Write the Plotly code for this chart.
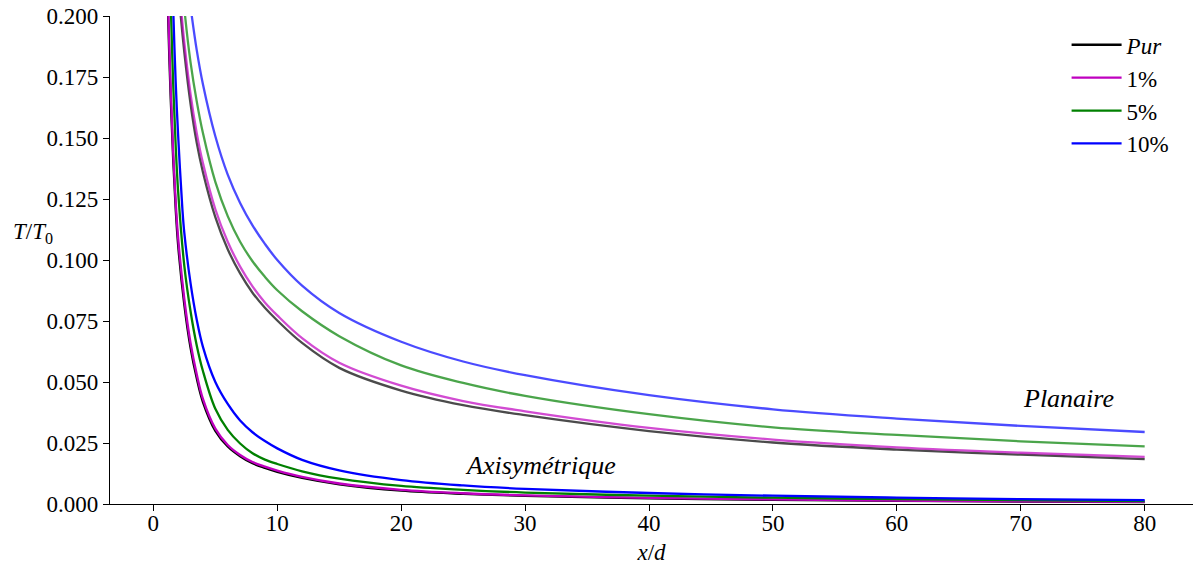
import plotly.graph_objects as go

# ---- data ----
series_names = ["<i>Pur</i>", "1%", "5%", "10%"]
colors = ["#000000", "#bf00bf", "#008000", "#0000ff"]

# Axisymmetric jets
ax_x_pur = [1.1, 1.2, 1.4, 1.6, 1.8, 2.0, 2.5, 3, 3.5, 4, 5, 6, 7, 8, 9, 10, 12, 15, 20, 25, 30, 40, 50, 60, 70, 80]
ax_y_pur = [0.222, 0.198, 0.166, 0.141, 0.121, 0.106, 0.0815, 0.0640, 0.0515, 0.0418, 0.0300, 0.0236, 0.0196, 0.0167, 0.0148, 0.0132, 0.0107, 0.0081, 0.0055, 0.0042, 0.0033, 0.0023, 0.0017, 0.0013, 0.0010, 0.0008]
ax_x_1 = [1.1, 1.2, 1.4, 1.6, 1.8, 2.0, 2.5, 3, 3.5, 4, 5, 6, 7, 8, 9, 10, 12, 15, 20, 25, 30, 40, 50, 60, 70, 80]
ax_y_1 = [0.228, 0.203, 0.170, 0.144, 0.124, 0.109, 0.0840, 0.0660, 0.0532, 0.0431, 0.0309, 0.0242, 0.0201, 0.0172, 0.0153, 0.0137, 0.0111, 0.0084, 0.0058, 0.0044, 0.0035, 0.0025, 0.0019, 0.0014, 0.0011, 0.0009]
ax_x_5 = [1.3, 1.43, 1.6, 1.8, 2.0, 2.5, 3, 3.5, 4, 5, 6, 7, 8, 9, 10, 12, 15, 20, 25, 30, 40, 50, 60, 70, 80]
ax_y_5 = [0.224, 0.200, 0.172, 0.147, 0.128, 0.0975, 0.0790, 0.0650, 0.0545, 0.0390, 0.0304, 0.0248, 0.0208, 0.0182, 0.0164, 0.0134, 0.0104, 0.0074, 0.0058, 0.0047, 0.0034, 0.0026, 0.0020, 0.0016, 0.0012]
ax_x_10 = [1.5, 1.62, 1.8, 2.0, 2.34, 2.5, 3, 3.5, 4, 5, 6, 7, 8, 9, 10, 12, 15, 20, 25, 30, 40, 50, 60, 70, 80]
ax_y_10 = [0.224, 0.200, 0.173, 0.151, 0.121, 0.111, 0.0905, 0.0755, 0.0644, 0.0500, 0.0410, 0.0342, 0.0294, 0.0258, 0.0228, 0.0181, 0.0138, 0.0098, 0.0076, 0.0062, 0.0045, 0.0034, 0.0026, 0.0020, 0.0016]

# Planar jets
pl_x_pur = [2.0, 2.21, 2.5, 3, 3.5, 4, 5, 6, 7, 8, 9, 10, 12, 15, 20, 25, 30, 40, 50, 60, 70, 80]
pl_y_pur = [0.214, 0.200, 0.185, 0.164, 0.148, 0.136, 0.1176, 0.1044, 0.0945, 0.0866, 0.0804, 0.0752, 0.0660, 0.0558, 0.0465, 0.0405, 0.0364, 0.0299, 0.0252, 0.0223, 0.0202, 0.0184]
pl_x_1 = [2.1, 2.29, 2.5, 3, 3.5, 4, 5, 6, 7, 8, 9, 10, 12, 15, 20, 25, 30, 40, 50, 60, 70, 80]
pl_y_1 = [0.212, 0.200, 0.189, 0.168, 0.152, 0.1397, 0.1208, 0.1075, 0.0973, 0.0892, 0.0826, 0.0773, 0.0680, 0.0579, 0.0485, 0.0422, 0.0380, 0.0312, 0.0264, 0.0232, 0.0210, 0.0193]
pl_x_5 = [2.3, 2.56, 3, 3.5, 4, 5, 6, 7, 8, 9, 10, 12, 15, 20, 25, 30, 40, 50, 60, 70, 80]
pl_y_5 = [0.215, 0.200, 0.181, 0.165, 0.152, 0.132, 0.118, 0.1075, 0.0995, 0.0931, 0.0876, 0.0790, 0.0688, 0.0568, 0.0496, 0.0443, 0.0368, 0.0314, 0.0283, 0.0257, 0.0236]
pl_x_10 = [2.8, 3.1, 3.5, 4, 5, 6, 7, 8, 9, 10, 12, 15, 20, 25, 30, 40, 50, 60, 70, 80]
pl_y_10 = [0.212, 0.200, 0.186, 0.172, 0.1507, 0.135, 0.1234, 0.1142, 0.1066, 0.100, 0.0895, 0.0783, 0.0665, 0.0584, 0.0528, 0.0446, 0.0388, 0.0350, 0.0320, 0.0295]

x_ticks = [0, 10, 20, 30, 40, 50, 60, 70, 80]
y_ticks = [0.0, 0.025, 0.05, 0.075, 0.1, 0.125, 0.15, 0.175, 0.2]

axi = [(ax_x_pur, ax_y_pur), (ax_x_1, ax_y_1), (ax_x_5, ax_y_5), (ax_x_10, ax_y_10)]
pla = [(pl_x_pur, pl_y_pur), (pl_x_1, pl_y_1), (pl_x_5, pl_y_5), (pl_x_10, pl_y_10)]

FONT = "Liberation Serif, DejaVu Serif, serif"
FS = 23
fig = go.Figure()
for (px, py), c in zip(pla, colors):
    fig.add_trace(go.Scatter(x=px, y=py, mode="lines", showlegend=False, opacity=0.7,
                             line=dict(color=c, width=2.3, shape="spline", smoothing=1.0)))
for (px, py), c, n in zip(axi, colors, series_names):
    fig.add_trace(go.Scatter(x=px, y=py, mode="lines", name=n,
                             line=dict(color=c, width=2.3, shape="spline", smoothing=1.0)))

fig.add_annotation(x=70, y=0.04, text="<i>Planaire</i>", showarrow=False,
                   xanchor="left", yanchor="bottom", yshift=-9, font=dict(size=26, family=FONT, color="black"))
fig.add_annotation(x=25, y=0.012, text="<i>Axisymétrique</i>", showarrow=False,
                   xanchor="left", yanchor="bottom", yshift=-7, font=dict(size=26, family=FONT, color="black"))
fig.add_annotation(xref="paper", yref="paper", x=(33 - 110) / 1083, y=(504 - 233) / 488,
                   text="<i>T</i>/<i>T</i><sub>0</sub>", showarrow=False,
                   xanchor="center", yanchor="middle", font=dict(size=FS, family=FONT, color="black"))

fig.update_layout(
    width=1193, height=570,
    margin=dict(l=110, r=0, t=16, b=66),
    paper_bgcolor="white", plot_bgcolor="white",
    font=dict(family=FONT, size=FS, color="black"),
    legend=dict(x=0.983, y=0.985, xanchor="right", yanchor="top", bgcolor="rgba(0,0,0,0)",
                itemwidth=50, tracegroupgap=0, font=dict(size=FS, family=FONT)),
    xaxis=dict(range=[-3.5, 83.9], tickvals=x_ticks, ticktext=[str(v) for v in x_ticks],
               showgrid=False, zeroline=False, showline=True, linecolor="black", linewidth=1.3,
               ticks="outside", ticklen=6, tickwidth=1.3, tickcolor="black", ticklabelstandoff=-8,
               title=dict(text="<i>x</i>/<i>d</i>", font=dict(size=FS, family=FONT), standoff=9)),
    yaxis=dict(range=[0, 0.2], tickvals=y_ticks, ticktext=[f"{v:.3f}" for v in y_ticks],
               showgrid=False, zeroline=False, showline=True, linecolor="black", linewidth=1.3,
               ticks="outside", ticklen=6, tickwidth=1.3, tickcolor="black"),
)
fig.write_html("out.html", config={"displayModeBar": False},
               post_script="document.body.style.margin='0';")
